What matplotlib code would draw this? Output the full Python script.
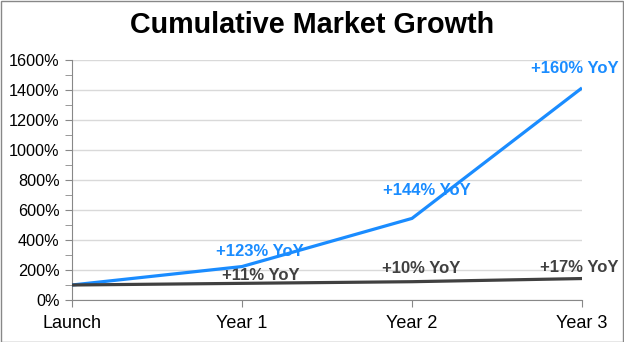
import matplotlib.pyplot as plt
from matplotlib.ticker import MultipleLocator, FuncFormatter

plt.rcParams['font.family'] = ['Liberation Sans', 'DejaVu Sans']

stages = ["Launch", "Year 1", "Year 2", "Year 3"]
market_a = [100, 223, 544, 1414]   # cumulative %, blue series
market_b = [100, 111, 122, 143]    # cumulative %, dark series
labels_a = ["+123% YoY", "+144% YoY", "+160% YoY"]
labels_b = ["+11% YoY", "+10% YoY", "+17% YoY"]

blue = "#1a8cff"
dark = "#404040"

fig = plt.figure(figsize=(6.24, 3.42), dpi=100)
ax = fig.add_axes([72 / 624, 42 / 342, 510 / 624, 240 / 342])

x = range(len(stages))
ax.plot(x, market_a, color=blue, lw=2.3, solid_capstyle="butt", zorder=4)
ax.plot(x, market_b, color=dark, lw=2.3, solid_capstyle="butt", zorder=4)

# YoY labels, offsets in pixels from the point they describe
offs_a = [(18, 15), (15, 28), (-7, 19)]
for i, (lab, off) in enumerate(zip(labels_a, offs_a), start=1):
    ax.annotate(lab, (i, market_a[i]), xytext=off, textcoords="offset pixels",
                ha="center", va="center", color=blue, fontsize=12, fontweight="bold")
offs_b = [(19, 8), (9, 13), (-3, 11)]
for i, (lab, off) in enumerate(zip(labels_b, offs_b), start=1):
    ax.annotate(lab, (i, market_b[i]), xytext=off, textcoords="offset pixels",
                ha="center", va="center", color=dark, fontsize=12, fontweight="bold")

ax.set_xlim(0, 3)
ax.set_ylim(0, 1600)
ax.set_xticks(list(x))
ax.set_xticklabels(stages, fontsize=13)
ax.yaxis.set_major_locator(MultipleLocator(200))
ax.yaxis.set_minor_locator(MultipleLocator(100))
ax.yaxis.set_major_formatter(FuncFormatter(lambda v, p: f"{v:.0f}%"))
ax.tick_params(axis="y", labelsize=11.7, length=5, color="#888888", which="both", pad=4)
ax.tick_params(axis="x", length=5, color="#888888", pad=6)
ax.grid(axis="y", color="#d9d9d9", lw=1)
ax.set_axisbelow(True)
for s in ["top", "right"]:
    ax.spines[s].set_visible(False)
for s in ["left", "bottom"]:
    ax.spines[s].set_color("#888888")

fig.text(0.5, 0.927, "Cumulative Market Growth", ha="center", va="center",
         fontsize=20.7, fontweight="bold")

border = plt.Rectangle((0.5 / 624, 0.5 / 342), 1 - 1.5 / 624, 1 - 1.5 / 342,
                       transform=fig.transFigure, fill=False, edgecolor="#888888", lw=1)
fig.patches.append(border)

fig.savefig("out.png", dpi=100)
